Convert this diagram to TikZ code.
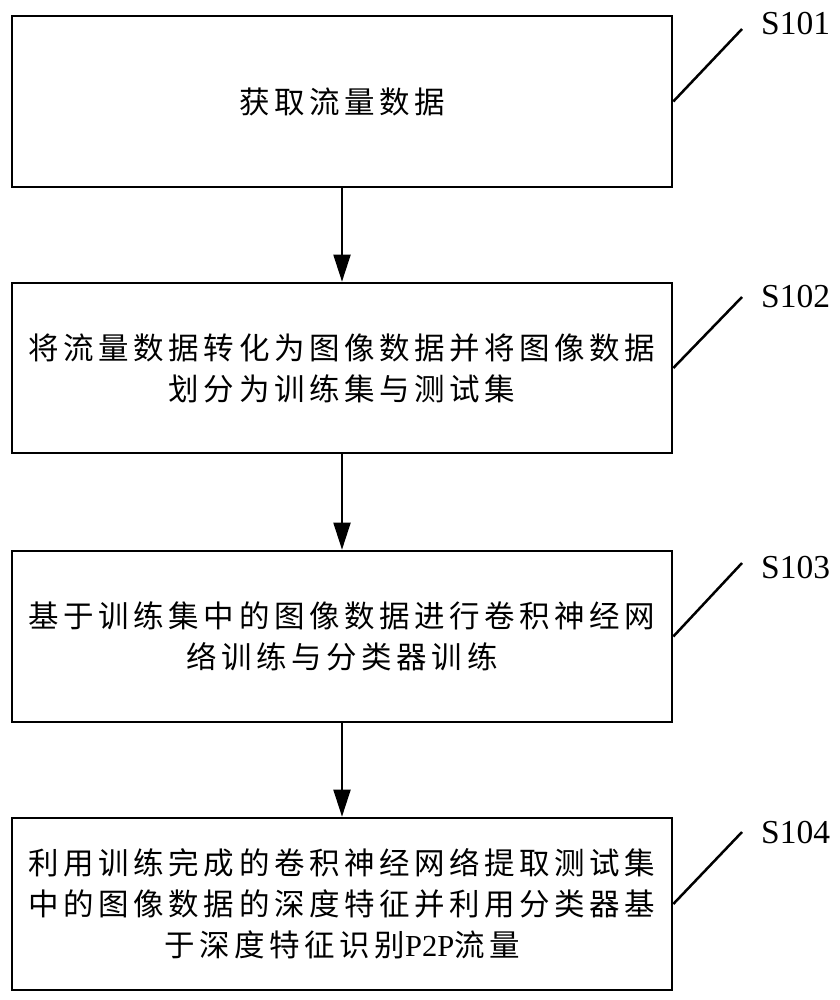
\documentclass[tikz,border=0pt]{standalone}
\usepackage{fontspec}
\setmainfont{Liberation Serif}
\newfontfamily\cjk[LetterSpace=15]{Noto Sans CJK SC}
\newfontfamily\tnr{Liberation Serif}
\usetikzlibrary{arrows.meta}
\begin{document}
\begin{tikzpicture}[x=1pt,y=-1pt,
  box/.style={draw, line width=2.6pt, minimum width=660pt, inner sep=0pt, align=center,
    font=\cjk\fontsize{30.5}{41}\selectfont},
  flow/.style={-{Triangle[length=27pt,width=17pt]}, line width=1.9pt},
  lead/.style={line width=2.5pt},
  lbl/.style={anchor=base west, inner sep=0pt, font=\tnr\fontsize{33.5}{40}\selectfont}]
\useasboundingbox (0,0) rectangle (839,1000);
\fill[white] (0,0) rectangle (839,1000);

\node[box, minimum height=171pt] (b1) at (342,101.5) {获取流量数据};
\node[box, minimum height=170pt] (b2) at (342,368) {将流量数据转化为图像数据并将图像数据\\划分为训练集与测试集};
\node[box, minimum height=171pt] (b3) at (342,636.5) {基于训练集中的图像数据进行卷积神经网\\络训练与分类器训练};
\node[box, minimum height=172pt] (b4) at (342,904) {利用训练完成的卷积神经网络提取测试集\\中的图像数据的深度特征并利用分类器基\\于深度特征识别{\tnr P2P}流量};

\draw[flow] (b1.south) -- (b2.north);
\draw[flow] (b2.south) -- (b3.north);
\draw[flow] (b3.south) -- (b4.north);

\coordinate (e1) at (742,29);
\coordinate (e2) at (742,297);
\coordinate (e3) at (742,563);
\coordinate (e4) at (742,832);
\draw[lead] (b1.east) -- (e1);
\draw[lead] (b2.east) -- (e2);
\draw[lead] (b3.east) -- (e3);
\draw[lead] (b4.east) -- (e4);

\node[lbl] (s1) at (761,35) {S101};
\node[lbl] (s2) at (761,307) {S102};
\node[lbl] (s3) at (761,578) {S103};
\node[lbl] (s4) at (761,843) {S104};
\end{tikzpicture}
\end{document}
